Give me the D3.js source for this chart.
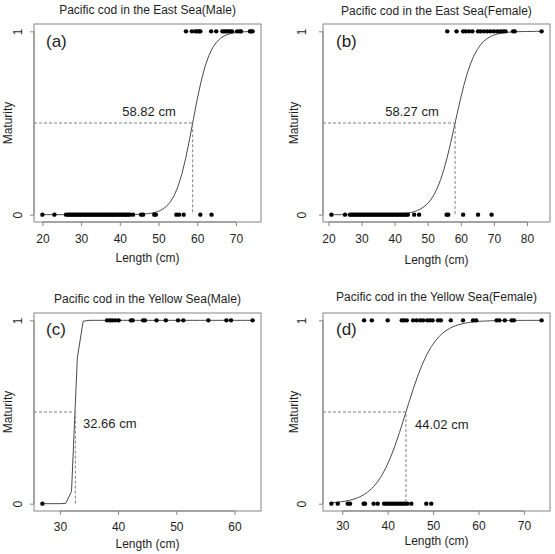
<!DOCTYPE html>
<html><head><meta charset="utf-8">
<script src="https://cdn.jsdelivr.net/npm/d3@7"></script>
<style>
body{margin:0;background:#fff}
svg{display:block}
text{font-family:"Liberation Sans",Arial,sans-serif;fill:#1e1e1e}
</style>
</head><body>
<svg id="chart" width="555" height="554"></svg>
<script>
// ---------------- data ----------------
const panelTitles = [
  "Pacific cod in the East Sea(Male)",
  "Pacific cod in the East Sea(Female)",
  "Pacific cod in the Yellow Sea(Male)",
  "Pacific cod in the Yellow Sea(Female)"
];
const panelTags = ["(a)", "(b)", "(c)", "(d)"];
const l50Values = [58.82, 58.27, 32.66, 44.02];
const slopeValues = [0.45, 0.33, 4.0, 0.32];
const xTickValues = [
  [20, 30, 40, 50, 60, 70],
  [20, 30, 40, 50, 60, 70, 80],
  [30, 40, 50, 60],
  [30, 40, 50, 60, 70]
];
const yTickValues = [0, 1];
const xAxisTitle = "Length (cm)";
const yAxisTitle = "Maturity";

// lengths of immature (0) and mature (1) fish
const immatureA = [20.0, 23.1, 26.1, 26.6, 27.0, 27.4, 27.8, 28.2, 28.6, 29.0, 29.4, 29.8, 30.2, 30.6, 31.0, 31.4, 31.8, 32.2, 32.6, 33.0, 33.4, 33.8, 34.2, 34.6, 35.0, 35.4, 35.8, 36.2, 36.6, 37.0, 37.4, 37.8, 38.2, 38.6, 39.0, 39.4, 39.8, 40.2, 40.6, 41.0, 41.4, 41.8, 42.2, 42.6, 43.4, 45.5, 46.0, 48.9, 49.3, 54.6, 55.3, 56.5, 60.8, 63.7];
const matureA = [57.1, 58.6, 59.5, 60.0, 60.5, 60.8, 63.6, 64.9, 66.5, 67.0, 67.5, 68.0, 68.5, 69.0, 70.3, 71.0, 71.3, 73.6, 74.0, 74.3];

const immatureB = [20.9, 25.0, 26.5, 27.0, 27.5, 28.0, 28.5, 29.0, 29.5, 30.0, 30.5, 31.0, 31.5, 32.0, 32.5, 33.0, 33.5, 34.0, 34.5, 35.0, 35.5, 36.0, 36.5, 37.0, 37.5, 38.0, 38.5, 39.0, 39.5, 40.0, 40.5, 41.0, 41.5, 42.0, 42.5, 43.0, 43.5, 44.0, 45.9, 47.4, 55.7, 56.2, 60.7, 65.2, 69.3];
const matureB = [55.9, 58.7, 60.7, 61.5, 62.5, 63.5, 65.2, 66.0, 67.0, 68.0, 69.0, 70.0, 71.0, 72.0, 72.8, 73.5, 75.8, 76.3, 84.4];

const immatureC = [27.0];
const matureC = [38.1, 38.6, 39.0, 39.5, 40.1, 42.2, 42.5, 44.3, 44.6, 46.6, 48.2, 50.3, 51.2, 55.5, 58.6, 59.4, 63.1];

const immatureD = [27.6, 29.0, 31.2, 31.7, 34.7, 35.0, 36.9, 37.8, 39.2, 39.7, 40.2, 40.7, 41.2, 41.7, 42.2, 42.7, 43.2, 43.7, 44.3, 45.2, 48.5, 49.6];
const matureD = [34.8, 36.5, 40.0, 43.1, 43.6, 44.2, 45.6, 46.4, 47.2, 47.8, 48.7, 49.3, 49.9, 51.1, 51.7, 53.9, 56.6, 58.8, 59.5, 64.0, 64.6, 65.8, 67.3, 67.8, 73.9];

const immatureSets = [immatureA, immatureB, immatureC, immatureD];
const matureSets = [matureA, matureB, matureC, matureD];

// ---------------- layout ----------------
const layout = [
  {x0:34,  x1:261, y0:24,  y1:222, titleY:10,  tickY:239, xlabY:258, ylabX:8,   yTickX:18,  tagX:46,  tagY:47,  lab:{x:149, y:111, anchor:"middle"}},
  {x0:323, x1:550, y0:24,  y1:222, titleY:11,  tickY:239, xlabY:260, ylabX:294, yTickX:302, tagX:336, tagY:47,  lab:{x:412, y:111, anchor:"middle"}},
  {x0:34,  x1:261, y0:313, y1:511, titleY:299, tickY:527, xlabY:544, ylabX:8,   yTickX:18,  tagX:46,  tagY:335, lab:{x:83,  y:423, anchor:"start"}},
  {x0:323, x1:550, y0:313, y1:511, titleY:297, tickY:526, xlabY:541, ylabX:294, yTickX:302, tagX:336, tagY:335, lab:{x:415, y:424, anchor:"start"}}
];

const svg = d3.select("#chart");
const boxColor = "#858585";

layout.forEach((L, i) => {
  const imm = immatureSets[i], mat = matureSets[i];
  const all = imm.concat(mat);
  const [mn, mx] = d3.extent(all);
  const pad = (mx - mn) * 0.04;
  const x = d3.scaleLinear().domain([mn - pad, mx + pad]).range([L.x0, L.x1]);
  const y = d3.scaleLinear().domain([-0.04, 1.04]).range([L.y1, L.y0]);
  const g = svg.append("g");

  // title
  g.append("text").attr("x", (L.x0 + L.x1) / 2).attr("y", L.titleY)
    .attr("text-anchor", "middle").attr("dominant-baseline", "central")
    .style("font-size", "12px").text(panelTitles[i]);

  // box
  g.append("rect").attr("x", L.x0).attr("y", L.y0)
    .attr("width", L.x1 - L.x0).attr("height", L.y1 - L.y0)
    .attr("fill", "none").attr("stroke", boxColor).attr("stroke-width", 1);

  // x axis
  const xa = g.append("g").attr("transform", `translate(0,${L.y1})`)
    .call(d3.axisBottom(x).tickValues(xTickValues[i]).tickSize(4).tickFormat(d3.format("d")));
  xa.select(".domain").attr("stroke", boxColor)
    .attr("d", `M${x(xTickValues[i][0])},0H${x(xTickValues[i][xTickValues[i].length - 1])}`);
  xa.selectAll(".tick line").attr("stroke", boxColor);
  xa.selectAll(".tick text").attr("y", null).attr("dy", null)
    .attr("transform", `translate(0,${L.tickY - L.y1})`)
    .attr("dominant-baseline", "central")
    .style("font-size", "12px").style("font-family", '"Liberation Sans",Arial,sans-serif').attr("fill", "#1e1e1e");

  // y axis
  const ya = g.append("g").attr("transform", `translate(${L.x0},0)`)
    .call(d3.axisLeft(y).tickValues(yTickValues).tickSize(4).tickFormat(d3.format("d")));
  ya.select(".domain").attr("stroke", boxColor).attr("d", `M0,${y(0)}V${y(1)}`);
  ya.selectAll(".tick line").attr("stroke", boxColor);
  ya.selectAll(".tick text").attr("x", null).attr("dy", null)
    .attr("text-anchor", "middle").attr("dominant-baseline", "central")
    .attr("transform", `translate(${L.yTickX - L.x0},0) rotate(-90)`)
    .style("font-size", "12px").style("font-family", '"Liberation Sans",Arial,sans-serif').attr("fill", "#1e1e1e");

  // axis titles
  g.append("text").attr("x", (L.x0 + L.x1) / 2).attr("y", L.xlabY)
    .attr("text-anchor", "middle").attr("dominant-baseline", "central")
    .style("font-size", "12px").text(xAxisTitle);
  g.append("text").attr("transform", `translate(${L.ylabX},${(L.y0 + L.y1) / 2}) rotate(-90)`)
    .attr("text-anchor", "middle").attr("dominant-baseline", "central")
    .style("font-size", "12px").text(yAxisTitle);

  // fitted logistic curve on a 1-cm grid
  const L50 = l50Values[i], r = slopeValues[i];
  const grid = d3.range(mn, mx, 1).concat([mx]);
  const curve = grid.map(v => [v, 1 / (1 + Math.exp(-r * (v - L50)))]);
  g.append("path").datum(curve)
    .attr("d", d3.line().x(d => x(d[0])).y(d => y(d[1])))
    .attr("fill", "none").attr("stroke", "#4a4a4a").attr("stroke-width", 1);

  // L50 guides
  g.append("path")
    .attr("d", `M${L.x0},${y(0.5)}H${x(L50)}V${y(0)}`)
    .attr("fill", "none").attr("stroke", "#808080").attr("stroke-width", 1)
    .attr("stroke-dasharray", "3,2");

  // points
  const pts = imm.map(v => [v, 0]).concat(mat.map(v => [v, 1]));
  g.selectAll("circle.p").data(pts).enter().append("circle")
    .attr("cx", d => x(d[0])).attr("cy", d => y(d[1])).attr("r", 2.2)
    .attr("fill", "#000");

  // tag and L50 label
  g.append("text").attr("x", L.tagX).attr("y", L.tagY)
    .style("font-size", "17px").text(panelTags[i]);
  g.append("text").attr("x", L.lab.x).attr("y", L.lab.y)
    .attr("text-anchor", L.lab.anchor).attr("dominant-baseline", "central")
    .style("font-size", "13px").text(`${L50.toFixed(2)} cm`);
});
</script>
</body></html>
